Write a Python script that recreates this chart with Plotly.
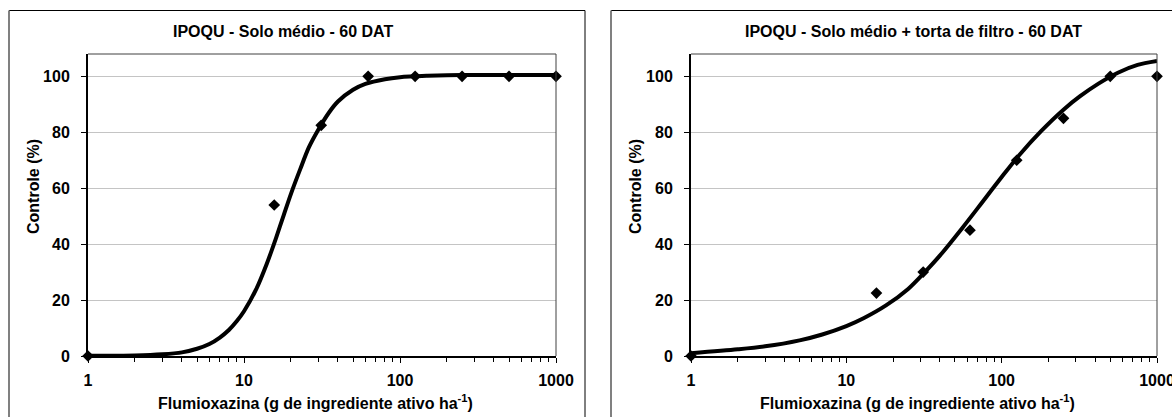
import plotly.graph_objects as go

# ---------------- data ----------------
doses = [1, 15.625, 31.25, 62.5, 125, 250, 500, 1000]
controle_solo = [0, 54, 82.5, 100, 100, 100, 100, 100]
controle_torta = [0, 22.5, 30, 45, 70, 85, 100, 100]

curve_solo_x = [1, 2, 3, 4, 5, 6, 7, 8, 9, 10, 12, 14, 16, 18, 20, 23, 26, 30, 35, 40,
                50, 60, 80, 100, 150, 200, 300, 500, 1000]
curve_solo_y = [0.1, 0.2, 0.6, 1.3, 2.6, 4.3, 6.6, 9.3, 12.5, 16, 24, 33, 42, 50.5, 58, 67,
                74.5, 81, 87, 91, 95.2, 97.3, 99, 99.7, 100.2, 100.4, 100.5, 100.5, 100.5]

curve_torta_x = [1, 2, 3, 5, 7, 10, 13, 18, 25, 32, 40, 56, 75, 100, 130, 180, 250, 320,
                 420, 560, 750, 1000]
curve_torta_y = [1.0, 2.4, 3.45, 5.6, 7.7, 10.7, 13.6, 18.1, 24, 30, 35.9, 45.9, 55, 64,
                 71.9, 80.5, 88.1, 92.9, 97.4, 101.3, 104.1, 105.5]

x_tickvals = [1, 10, 100, 1000]
x_ticktext = ["1", "10", "100", "1000"]
x_minor = [2, 3, 4, 5, 6, 7, 8, 9, 20, 30, 40, 50, 60, 70, 80, 90,
           200, 300, 400, 500, 600, 700, 800, 900]
y_tickvals = [0, 20, 40, 60, 80, 100]

titles = ["IPOQU - Solo médio - 60 DAT", "IPOQU - Solo médio + torta de filtro - 60 DAT"]
x_title = "Flumioxazina (g de ingrediente ativo ha<sup>-1</sup>)"
y_title = "Controle (%)"

# ---------------- layout helpers ----------------
W, H = 1172, 417

def px(p):
    return min(max(p / W, 0.0), 1.0)
def py(p):
    return min(max(1 - p / H, 0.0), 1.0)

FONT = "Liberation Sans, Arial, sans-serif"
PLOT_TOP, PLOT_BOT = 54, 356
panels = [
    dict(l=88, r=556, title_cx=283, xt_cx=315, yt_cx=33, box_l=9, box_r=585),
    dict(l=691, r=1157, title_cx=914, xt_cx=917, yt_cx=635, box_l=611, box_r=1172),
]

fig = go.Figure()

series = [(curve_solo_x, curve_solo_y, controle_solo), (curve_torta_x, curve_torta_y, controle_torta)]
for i, (cx, cy, obs) in enumerate(series):
    xa = "x" if i == 0 else "x2"
    ya = "y" if i == 0 else "y2"
    fig.add_trace(go.Scatter(x=doses, y=obs, mode="markers", xaxis=xa, yaxis=ya,
                             marker=dict(symbol="diamond", size=9, color="black"),
                             cliponaxis=False, showlegend=False))
    fig.add_trace(go.Scatter(x=cx, y=cy, mode="lines", xaxis=xa, yaxis=ya,
                             line=dict(color="black", width=4, shape="spline", smoothing=0.8),
                             cliponaxis=False, showlegend=False))

def xaxis_cfg(p):
    return dict(type="log", range=[0, 3], domain=[px(p["l"]), px(p["r"])], automargin=False,
                tickvals=x_tickvals, ticktext=x_ticktext, ticks="outside", ticklen=5,
                tickwidth=1, tickcolor="black", ticklabelstandoff=4, ticklabeloverflow="allow",
                tickfont=dict(family=FONT, size=16, color="black", weight="bold"),
                showline=True, linecolor="black", linewidth=2, showgrid=False, zeroline=False,
                minor=dict(tickvals=x_minor, ticks="outside", ticklen=4, tickwidth=1,
                           tickcolor="black", showgrid=False))

def yaxis_cfg(p):
    return dict(range=[0, 108], domain=[py(PLOT_BOT), py(PLOT_TOP)], automargin=False,
                tickvals=y_tickvals, ticks="outside", ticklen=5, tickwidth=1, tickcolor="black",
                ticklabelstandoff=8, ticklabeloverflow="allow",
                tickfont=dict(family=FONT, size=16, color="black", weight="bold"),
                showline=True, linecolor="black", linewidth=2, showgrid=True,
                gridcolor="#c4c4c4", gridwidth=1, zeroline=False)

shapes = []
annotations = []
for i, p in enumerate(panels):
    shapes.append(dict(type="line", xref="paper", yref="paper", x0=px(p["box_l"]), x1=px(p["box_r"]),
                       y0=py(10.5), y1=py(10.5), line=dict(color="black", width=1)))
    shapes.append(dict(type="line", xref="paper", yref="paper", x0=px(p["box_l"]), x1=px(p["box_l"]),
                       y0=py(10.5), y1=py(417), line=dict(color="#808080", width=2)))
    if i == 0:
        shapes.append(dict(type="line", xref="paper", yref="paper", x0=px(p["box_r"]), x1=px(p["box_r"]),
                           y0=py(10.5), y1=py(417), line=dict(color="black", width=1)))
    shapes.append(dict(type="line", xref="paper", yref="paper", x0=px(p["l"]), x1=px(p["r"]),
                       y0=py(PLOT_TOP), y1=py(PLOT_TOP), line=dict(color="#404040", width=1)))
    shapes.append(dict(type="line", xref="paper", yref="paper", x0=px(p["r"]), x1=px(p["r"]),
                       y0=py(PLOT_TOP), y1=py(PLOT_BOT), line=dict(color="#404040", width=1)))
    annotations.append(dict(text=titles[i], xref="paper", yref="paper", x=px(p["title_cx"]), y=py(32),
                            xanchor="center", yanchor="middle", showarrow=False,
                            font=dict(family=FONT, size=16, color="black", weight="bold")))
    annotations.append(dict(text=x_title, xref="paper", yref="paper", x=px(p["xt_cx"]), y=py(402),
                            xanchor="center", yanchor="middle", showarrow=False,
                            font=dict(family=FONT, size=16, color="black", weight="bold")))
    annotations.append(dict(text=y_title, xref="paper", yref="paper", x=px(p["yt_cx"]), y=py(187),
                            xanchor="center", yanchor="middle", showarrow=False, textangle=-90,
                            font=dict(family=FONT, size=16, color="black", weight="bold")))

fig.update_layout(
    width=W, height=H, margin=dict(l=0, r=0, t=0, b=0, autoexpand=False),
    paper_bgcolor="white", plot_bgcolor="white",
    xaxis=dict(xaxis_cfg(panels[0]), anchor="y"),
    yaxis=dict(yaxis_cfg(panels[0]), anchor="x"),
    xaxis2=dict(xaxis_cfg(panels[1]), anchor="y2"),
    yaxis2=dict(yaxis_cfg(panels[1]), anchor="x2"),
    shapes=shapes, annotations=annotations,
    font=dict(family=FONT, color="black"),
)

fig.write_html(
    "out.html",
    config={"displayModeBar": False},
    post_script=("document.body.style.margin='0';"
                 "document.body.style.overflow='hidden';"),
)
